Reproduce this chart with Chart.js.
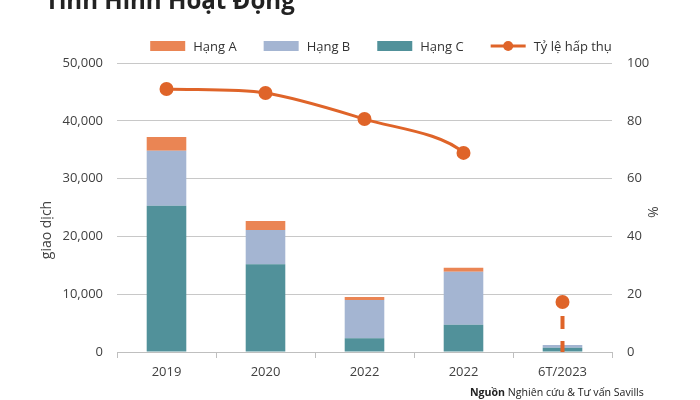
<!DOCTYPE html>
<html><head><meta charset="utf-8">
<script src="https://cdn.jsdelivr.net/npm/chart.js@4"></script>
<style>html,body{margin:0;padding:0;background:#fff}#wrap{width:700px;height:400px;position:relative}</style>
</head><body><div id="wrap"><canvas id="c" width="700" height="400"></canvas></div>
<script>
const categories = ['2019', '2020', '2022', '2022', '6T/2023'];
const seriesNames = ['Hạng A', 'Hạng B', 'Hạng C', 'Tỷ lệ hấp thụ'];
const hangA = [2400, 1550, 500, 700, 0];
const hangB = [9500, 5900, 6600, 9170, 450];
const hangC = [25300, 15200, 2400, 4700, 750];
const tyLeHapThu = [91.0, 89.6, 80.6, 68.9, 17.3];
const leftTicks = [0, 10000, 20000, 30000, 40000, 50000];
const rightTicks = [0, 20, 40, 60, 80, 100];
const titleText = 'Tình Hình Hoạt Động';
const leftAxisTitle = 'giao dịch';
const rightAxisTitle = '%';
const sourceBold = 'Nguồn';
const sourceRest = ' Nghiên cứu & Tư vấn Savills';

const colA = '#EA8554', colB = '#A4B5D2', colC = '#51919A', colLine = '#DF6429';
const FONT = '"Open Sans", "Noto Sans", sans-serif';
const lastIdx = categories.length - 1;

const extras = {
  id: 'extras',
  afterDraw(chart) {
    const ctx = chart.ctx;
    ctx.save();
    ctx.fillStyle = '#222';
    ctx.textBaseline = 'alphabetic';
    ctx.textAlign = 'left';
    ctx.font = 'bold 26px ' + FONT;
    const tw = ctx.measureText(titleText).width;
    const ts = 26 * 250 / tw;
    ctx.font = 'bold ' + ts.toFixed(1) + 'px ' + FONT;
    ctx.fillText(titleText, 45, 9);

    ctx.font = '13px ' + FONT;
    ctx.textBaseline = 'middle';
    const dsByLabel = {};
    chart.data.datasets.forEach(d => { if (d.label) dsByLabel[d.label] = d; });
    const boxW = 35, gapT = 8, gapI = 27;
    let total = 0;
    seriesNames.forEach((n, i) => { total += boxW + gapT + ctx.measureText(n).width + (i ? gapI : 0); });
    let x = 381 - total / 2;
    const ly = 46;
    seriesNames.forEach((n) => {
      const d = dsByLabel[n];
      if (d.type === 'line') {
        ctx.strokeStyle = colLine; ctx.lineWidth = 3;
        ctx.beginPath(); ctx.moveTo(x, ly); ctx.lineTo(x + boxW, ly); ctx.stroke();
        ctx.fillStyle = colLine;
        ctx.beginPath(); ctx.arc(x + boxW / 2, ly, 5, 0, Math.PI * 2); ctx.fill();
      } else {
        ctx.fillStyle = d.backgroundColor;
        ctx.fillRect(x, ly - 5, boxW, 10);
      }
      x += boxW + gapT;
      ctx.fillStyle = '#333';
      ctx.fillText(n, x, ly + 1);
      x += ctx.measureText(n).width + gapI;
    });

    ctx.fillStyle = '#444';
    ctx.font = '14px ' + FONT;
    ctx.textAlign = 'center';
    ctx.save(); ctx.translate(47, 230); ctx.rotate(-Math.PI / 2); ctx.fillText(leftAxisTitle, 0, 0); ctx.restore();
    ctx.save(); ctx.translate(652, 212); ctx.rotate(Math.PI / 2); ctx.fillText(rightAxisTitle, 0, 0); ctx.restore();

    ctx.textAlign = 'left';
    ctx.textBaseline = 'alphabetic';
    ctx.fillStyle = '#222';
    ctx.font = 'bold 10.6px ' + FONT;
    const bw = ctx.measureText(sourceBold).width;
    ctx.fillText(sourceBold, 470, 396);
    ctx.font = '10.6px ' + FONT;
    ctx.fillText(sourceRest, 470 + bw, 396);
    ctx.restore();
  }
};

new Chart(document.getElementById('c'), {
  type: 'bar',
  data: {
    labels: categories,
    datasets: [
      { type: 'line', label: seriesNames[3], data: tyLeHapThu, yAxisID: 'y1', order: 0,
        borderColor: colLine, backgroundColor: colLine, borderWidth: 3,
        pointRadius: 7, pointHoverRadius: 7, pointBorderWidth: 0, pointBackgroundColor: colLine,
        tension: 0.3,
        segment: { borderColor: c => c.p1DataIndex === lastIdx ? 'rgba(0,0,0,0)' : undefined } },
      { type: 'line', label: '', data: [{ x: categories[lastIdx], y: 0 }, { x: categories[lastIdx], y: tyLeHapThu[lastIdx] }],
        yAxisID: 'y1', order: 1, borderColor: colLine, borderWidth: 4, borderDash: [13, 12], borderDashOffset: 2,
        pointRadius: 0, fill: false },
      { label: seriesNames[2], data: hangC, backgroundColor: colC, yAxisID: 'y', order: 2, stack: 's' },
      { label: seriesNames[1], data: hangB, backgroundColor: colB, yAxisID: 'y', order: 2, stack: 's' },
      { label: seriesNames[0], data: hangA, backgroundColor: colA, yAxisID: 'y', order: 2, stack: 's' }
    ]
  },
  options: {
    responsive: false,
    animation: false,
    layout: { padding: { top: 63, left: 0, right: 0, bottom: 0 } },
    datasets: { bar: { barPercentage: 0.4, categoryPercentage: 1.0 } },
    plugins: { legend: { display: false }, tooltip: { enabled: false }, title: { display: false } },
    scales: {
      x: {
        stacked: true,
        grid: { offset: true, drawOnChartArea: false, drawTicks: true, tickLength: 6, color: '#bfbfbf' },
        border: { display: true, color: '#bfbfbf' },
        ticks: { color: '#404040', font: { size: 13, family: FONT }, padding: 6 },
        afterFit(s) { s.height = 48; }
      },
      y: {
        stacked: true, min: 0, max: 50000,
        afterBuildTicks(s) { s.ticks = leftTicks.map(v => ({ value: v })); },
        ticks: { color: '#404040', font: { size: 13, family: FONT }, padding: 14,
                 callback: v => v.toLocaleString('en-US') },
        grid: { color: '#c8c8c8', drawTicks: false },
        border: { display: false },
        afterFit(s) { s.width = 117; }
      },
      y1: {
        position: 'right', min: 0, max: 100,
        afterBuildTicks(s) { s.ticks = rightTicks.map(v => ({ value: v })); },
        ticks: { color: '#404040', font: { size: 13, family: FONT }, padding: 15 },
        grid: { drawOnChartArea: false, drawTicks: false },
        border: { display: false },
        afterFit(s) { s.width = 88; }
      }
    }
  },
  plugins: [extras]
});
</script></body></html>
